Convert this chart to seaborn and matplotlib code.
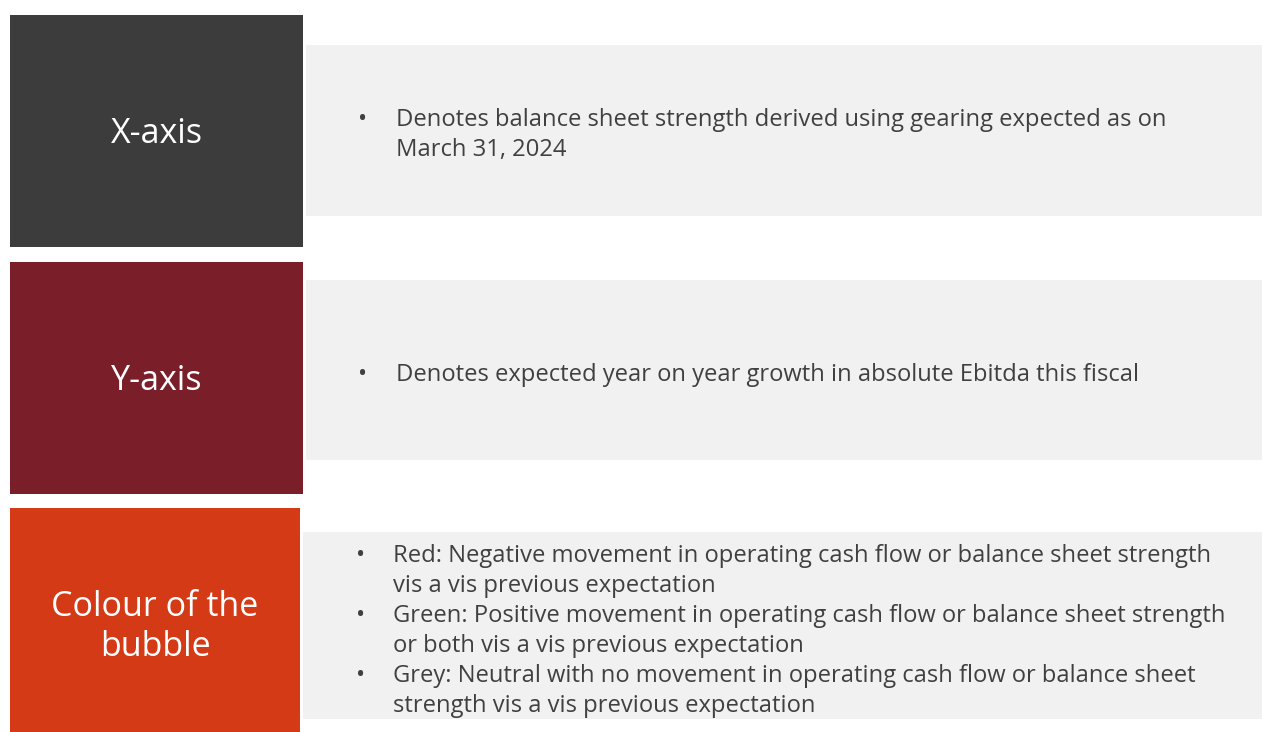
import matplotlib
matplotlib.use("Agg")
import matplotlib.pyplot as plt
from matplotlib.patches import Rectangle
import seaborn as sns

# ---------------------------------------------------------------
# Content of the slide
# ---------------------------------------------------------------
box_labels = ["X-axis", "Y-axis", "Colour of the\nbubble"]
box_colors = ["#3c3c3c", "#7a1e29", "#d53a16"]

# each bullet is a list of its wrapped lines
bullets_x = [["Denotes balance sheet strength derived using gearing expected as on",
              "March 31, 2024"]]
bullets_y = [["Denotes expected year on year growth in absolute Ebitda this fiscal"]]
bullets_colour = [
    ["Red: Negative movement in operating cash flow or balance sheet strength",
     "vis a vis previous expectation"],
    ["Green: Positive movement in operating cash flow or balance sheet strength",
     "or both vis a vis previous expectation"],
    ["Grey: Neutral with no movement in operating cash flow or balance sheet",
     "strength vis a vis previous expectation"],
]
bullet_groups = [bullets_x, bullets_y, bullets_colour]

# ---------------------------------------------------------------
# Layout (pixel coords, origin top-left)
# ---------------------------------------------------------------
W, H = 1262, 732
box_geom = [(10, 15, 293, 232), (10, 262, 293, 232), (10, 508, 290, 224)]
label_center_y = [130, 377, 623]
panel_geom = [(306, 45, 956, 171), (306, 280, 956, 180), (303, 532, 959, 187)]
first_line_y = [117, 372, 553]
bullet_x = [358, 358, 356]
text_x = [396, 396, 393]
LINE_H = 30
LABEL_LINE_H = 39
TEXT_COLOR = "#404040"
PANEL_COLOR = "#f1f1f1"

sns.set_theme(style="white")
plt.rcParams["font.family"] = ["Open Sans", "DejaVu Sans"]

fig = plt.figure(figsize=(W / 100, H / 100), dpi=100)
ax = fig.add_axes([0, 0, 1, 1])
ax.set_xlim(0, W)
ax.set_ylim(H, 0)
ax.axis("off")

for i, (label, color) in enumerate(zip(box_labels, box_colors)):
    bx, by, bw, bh = box_geom[i]
    ax.add_patch(Rectangle((bx, by), bw, bh, facecolor=color, edgecolor="none"))
    label_lines = label.split("\n")
    y0 = label_center_y[i] - (len(label_lines) - 1) * LABEL_LINE_H / 2
    for k, ln in enumerate(label_lines):
        ax.text(bx + bw / 2, y0 + k * LABEL_LINE_H, ln, color="white", fontsize=24.5,
                ha="center", va="center_baseline")

    px, py, pw, ph = panel_geom[i]
    ax.add_patch(Rectangle((px, py), pw, ph, facecolor=PANEL_COLOR, edgecolor="none"))

    y = first_line_y[i]
    for lines in bullet_groups[i]:
        ax.text(bullet_x[i], y, "•", color=TEXT_COLOR, fontsize=17.5,
                ha="left", va="center_baseline")
        for line in lines:
            ax.text(text_x[i], y, line, color=TEXT_COLOR, fontsize=17.1,
                    ha="left", va="center_baseline")
            y += LINE_H

fig.savefig("out.png", dpi=100)
